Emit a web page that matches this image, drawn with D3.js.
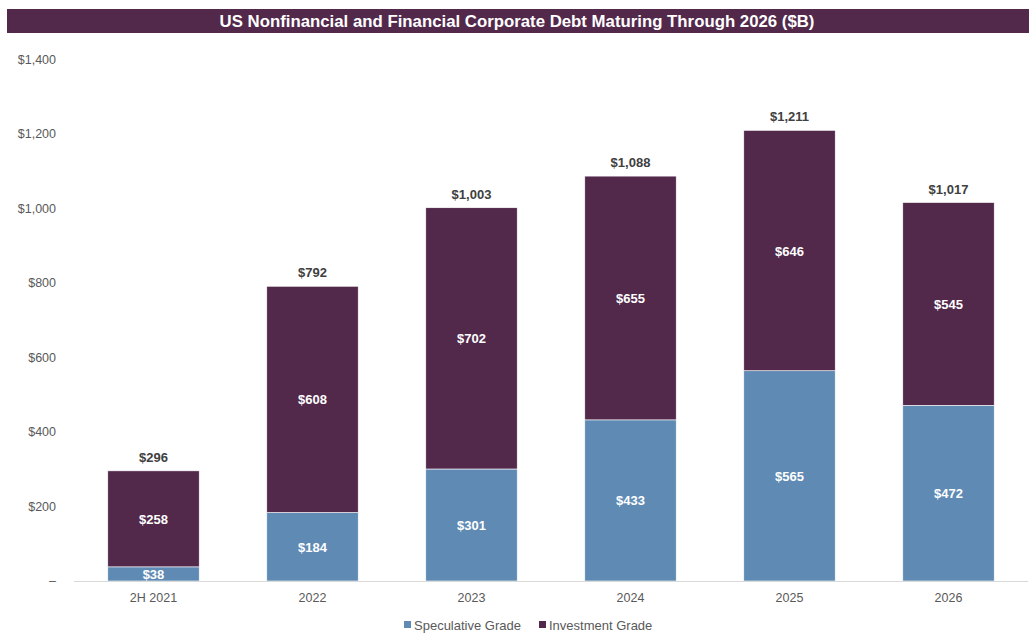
<!DOCTYPE html>
<html>
<head>
<meta charset="utf-8">
<script src="https://cdn.jsdelivr.net/npm/d3@7"></script>
<style>
  body { margin: 0; background: #fff; }
  svg { display: block; font-family: "Liberation Sans", Arial, sans-serif; }
</style>
</head>
<body>
<script>
// chart data
var categories = ["2H 2021", "2022", "2023", "2024", "2025", "2026"];
var speculative = [38, 184, 301, 433, 565, 472];
var investment = [258, 608, 702, 655, 646, 545];
var totals = [296, 792, 1003, 1088, 1211, 1017];
var yTicks = [0, 200, 400, 600, 800, 1000, 1200, 1400];
var seriesNames = ["Speculative Grade", "Investment Grade"];

var width = 1033, height = 633;
var specColor = "#5e8ab4", invColor = "#52284b";

var svg = d3.select("body").append("svg")
    .attr("width", width)
    .attr("height", height);

// title band
svg.append("rect")
    .attr("x", 7).attr("y", 9)
    .attr("width", 1022).attr("height", 24)
    .attr("fill", invColor);
svg.append("text")
    .attr("x", 517).attr("y", 27)
    .attr("text-anchor", "middle")
    .attr("fill", "#fff")
    .attr("font-size", 16.8)
    .attr("font-weight", "bold")
    .text("US Nonfinancial and Financial  Corporate Debt Maturing Through 2026 ($B)");

var x = d3.scaleBand()
    .domain(categories)
    .range([74, 1028])
    .paddingInner(0.425)
    .paddingOuter(0.2125);

var y = d3.scaleLinear()
    .domain([0, 1400])
    .range([581, 60]);

// y axis labels
var fmt = d3.format("$,");
svg.append("g").selectAll("text")
    .data(yTicks)
    .enter().append("text")
    .attr("x", 56)
    .attr("y", function(d) { return y(d) + 4; })
    .attr("text-anchor", "end")
    .attr("font-size", 12.5)
    .attr("fill", "#595959")
    .text(function(d) { return d === 0 ? "–" : fmt(d); });

var rows = categories.map(function(c, i) {
  return { cat: c, spec: speculative[i], inv: investment[i], total: totals[i] };
});

var stack = d3.stack().keys(["spec", "inv"]);
var layers = stack(rows);
var colors = [specColor, invColor];

var g = svg.append("g");
layers.forEach(function(layer, li) {
  g.selectAll(".bar" + li)
      .data(layer)
      .enter().append("rect")
      .attr("x", function(d) { return x(d.data.cat); })
      .attr("y", function(d) { return y(d[1]); })
      .attr("width", x.bandwidth())
      .attr("height", function(d) { return y(d[0]) - y(d[1]); })
      .attr("fill", colors[li])
      .attr("stroke", "#fff")
      .attr("stroke-width", 0.6);

  g.selectAll(".lbl" + li)
      .data(layer)
      .enter().append("text")
      .attr("x", function(d) { return x(d.data.cat) + x.bandwidth() / 2; })
      .attr("y", function(d) {
        var mid = (y(d[0]) + y(d[1])) / 2;
        return mid + 5;
      })
      .attr("text-anchor", "middle")
      .attr("fill", "#fff")
      .attr("font-size", 13)
      .attr("font-weight", "bold")
      .text(function(d) { return fmt(d[1] - d[0]); });
});

// totals above bars
g.selectAll(".total")
    .data(rows)
    .enter().append("text")
    .attr("x", function(d) { return x(d.cat) + x.bandwidth() / 2; })
    .attr("y", function(d) { return y(d.total) - 9; })
    .attr("text-anchor", "middle")
    .attr("fill", "#404040")
    .attr("font-size", 13)
    .attr("font-weight", "bold")
    .text(function(d) { return fmt(d.total); });

// x axis baseline
svg.append("line")
    .attr("x1", 74).attr("x2", 1028)
    .attr("y1", 581.5).attr("y2", 581.5)
    .attr("stroke", "#d9d9d9")
    .attr("stroke-width", 1);

svg.append("g").selectAll("text")
    .data(categories)
    .enter().append("text")
    .attr("x", function(d) { return x(d) + x.bandwidth() / 2; })
    .attr("y", 602)
    .attr("text-anchor", "middle")
    .attr("font-size", 12.5)
    .attr("fill", "#595959")
    .text(function(d) { return d; });

// legend
var legend = svg.append("g");
var legX = [404, 539];
seriesNames.forEach(function(name, i) {
  legend.append("rect")
      .attr("x", legX[i]).attr("y", 621)
      .attr("width", 7).attr("height", 7)
      .attr("fill", colors[i]);
  legend.append("text")
      .attr("x", legX[i] + 10).attr("y", 630)
      .attr("font-size", 13)
      .attr("fill", "#595959")
      .text(name);
});
</script>
</body>
</html>
